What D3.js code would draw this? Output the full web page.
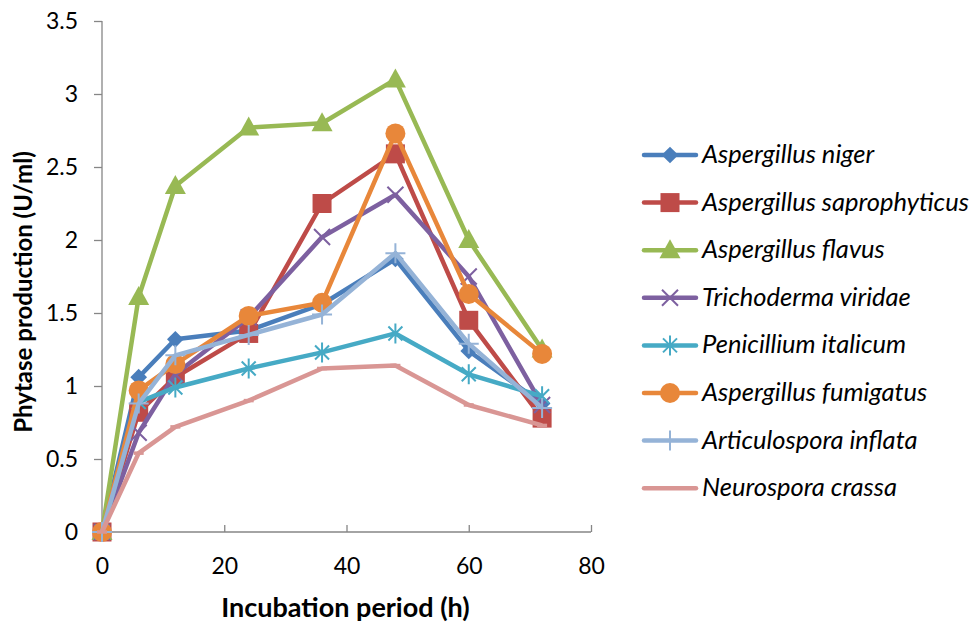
<!DOCTYPE html>
<html>
<head>
<meta charset="utf-8">
<script src="https://cdn.jsdelivr.net/npm/d3@7"></script>
<style>
  body { margin: 0; background: #fff; }
  svg { font-family: Lato, "Open Sans", sans-serif; }
</style>
</head>
<body>
<svg width="975" height="628"></svg>
<script>
// Incubation times (h)
const hours = [0, 6, 12, 24, 36, 48, 60, 72];

// Phytase production (U/ml) per fungus
const niger      = [0, 1.06, 1.32, 1.38, 1.56, 1.87, 1.24, 0.88];
const saprophyt  = [0, 0.82, 1.06, 1.36, 2.25, 2.59, 1.45, 0.78];
const flavus     = [0, 1.61, 2.37, 2.77, 2.80, 3.10, 2.00, 1.25];
const trichoderm = [0, 0.68, 1.08, 1.47, 2.02, 2.31, 1.75, 0.87];
const penicill   = [0, 0.89, 0.99, 1.12, 1.23, 1.36, 1.08, 0.93];
const fumigatus  = [0, 0.97, 1.15, 1.48, 1.57, 2.73, 1.63, 1.22];
const articulo   = [0, 0.88, 1.21, 1.35, 1.49, 1.91, 1.29, 0.85];
const neurospora = [0, 0.54, 0.72, 0.90, 1.12, 1.14, 0.87, 0.73];

const seriesNames = ["Aspergillus niger", "Aspergillus saprophyticus", "Aspergillus flavus",
  "Trichoderma viridae", "Penicillium italicum", "Aspergillus fumigatus",
  "Articulospora inflata", "Neurospora crassa"];
const seriesValues = [niger, saprophyt, flavus, trichoderm, penicill, fumigatus, articulo, neurospora];
const colors = ["#4A7EBB", "#BE4B48", "#98B954", "#7D60A0", "#46AAC5", "#E8873A", "#95B3D7", "#D99694"];
const markers = ["diamond", "square", "triangle", "times", "star", "circle", "plus", "dash"];

const yTicks = [0, 0.5, 1, 1.5, 2, 2.5, 3, 3.5];
const xTicks = [0, 20, 40, 60, 80];

const svg = d3.select("svg");
const x = d3.scaleLinear().domain([0, 80]).range([102, 591]);
const y = d3.scaleLinear().domain([0, 3.5]).range([532, 21]);

// axes
const axisColor = "#868686";
const xAxis = svg.append("g").attr("transform", `translate(0,${y(0)})`)
  .call(d3.axisBottom(x).tickValues(xTicks).tickSize(7).tickPadding(19).tickFormat(d3.format("d")));
const yAxis = svg.append("g").attr("transform", `translate(${x(0)},0)`)
  .call(d3.axisLeft(y).tickValues(yTicks).tickSize(8).tickPadding(16).tickFormat(d => String(d)));
[xAxis, yAxis].forEach(a => {
  a.attr("font-family", "Lato, sans-serif").attr("font-size", 23);
  a.selectAll("path, line").attr("stroke", axisColor).attr("stroke-width", 1.3);
  a.selectAll("text").attr("fill", "#000");
});
xAxis.select(".domain").attr("d", `M${x(0)},0H${x(80)}`);
yAxis.select(".domain").attr("d", `M0,${y(3.5)}V${y(0)}`);
// the x tick marks point up into the plot in the reference
xAxis.selectAll(".tick line").attr("y1", 0).attr("y2", -7);

svg.append("text")
  .attr("x", (x(0) + x(80)) / 2 - 1).attr("y", 617)
  .attr("text-anchor", "middle")
  .style("font-size", "27px").style("font-weight", "bold")
  .text("Incubation period (h)");

svg.append("text")
  .attr("transform", "translate(32,292) rotate(-90)")
  .attr("text-anchor", "middle")
  .style("font-size", "24px").style("font-weight", "bold")
  .text("Phytase production (U/ml)");

// marker drawing
function drawMarker(g, type, color) {
  switch (type) {
    case "diamond":
      g.append("path").attr("d", d3.symbol(d3.symbolSquare, 140)())
        .attr("transform", "rotate(45)").attr("fill", color);
      break;
    case "square":
      g.append("rect").attr("x", -9.5).attr("y", -9.5).attr("width", 19).attr("height", 19).attr("fill", color);
      break;
    case "triangle":
      g.append("path").attr("d", "M0,-11L10.5,8L-10.5,8Z").attr("fill", color);
      break;
    case "circle":
      g.append("circle").attr("r", 10).attr("fill", color);
      break;
    case "times":
      g.append("path").attr("d", "M-8,-8L8,8M-8,8L8,-8").attr("stroke", color).attr("stroke-width", 2).attr("fill", "none");
      break;
    case "star":
      g.append("path").attr("d", "M-7,-7L7,7M-7,7L7,-7M0,-10V10").attr("stroke", color).attr("stroke-width", 2).attr("fill", "none");
      break;
    case "plus":
      g.append("path").attr("d", "M-10,0H10M0,-10V10").attr("stroke", color).attr("stroke-width", 2).attr("fill", "none");
      break;
    case "dash":
      g.append("path").attr("d", "M-5,0H5").attr("stroke", color).attr("stroke-width", 3.5).attr("fill", "none");
      break;
  }
}

const line = d3.line().x((d, i) => x(hours[i])).y(d => y(d));

seriesValues.forEach((vals, k) => {
  const g = svg.append("g");
  g.append("path").datum(vals)
    .attr("d", line)
    .attr("fill", "none")
    .attr("stroke", colors[k])
    .attr("stroke-width", 4.5)
    .attr("stroke-linejoin", "round");
  g.selectAll(".m").data(vals).enter().append("g")
    .attr("transform", (d, i) => `translate(${x(hours[i])},${y(d)})`)
    .each(function () { drawMarker(d3.select(this), markers[k], colors[k]); });
});

// legend
const legend = svg.append("g");
seriesNames.forEach((name, k) => {
  const ly = 155 + k * 47.6;
  const row = legend.append("g").attr("transform", `translate(0,${ly})`);
  row.append("line").attr("x1", 644).attr("x2", 696).attr("y1", 0).attr("y2", 0)
    .attr("stroke", colors[k]).attr("stroke-width", 4.5).attr("stroke-linecap", "round");
  if (markers[k] !== "dash") {
    const mg = row.append("g").attr("transform", "translate(670,0)");
    drawMarker(mg, markers[k], colors[k]);
  }
  row.append("text").attr("x", 702).attr("y", 8)
    .style("font-size", "25.5px").style("font-style", "italic")
    .text(name);
});
</script>
</body>
</html>
